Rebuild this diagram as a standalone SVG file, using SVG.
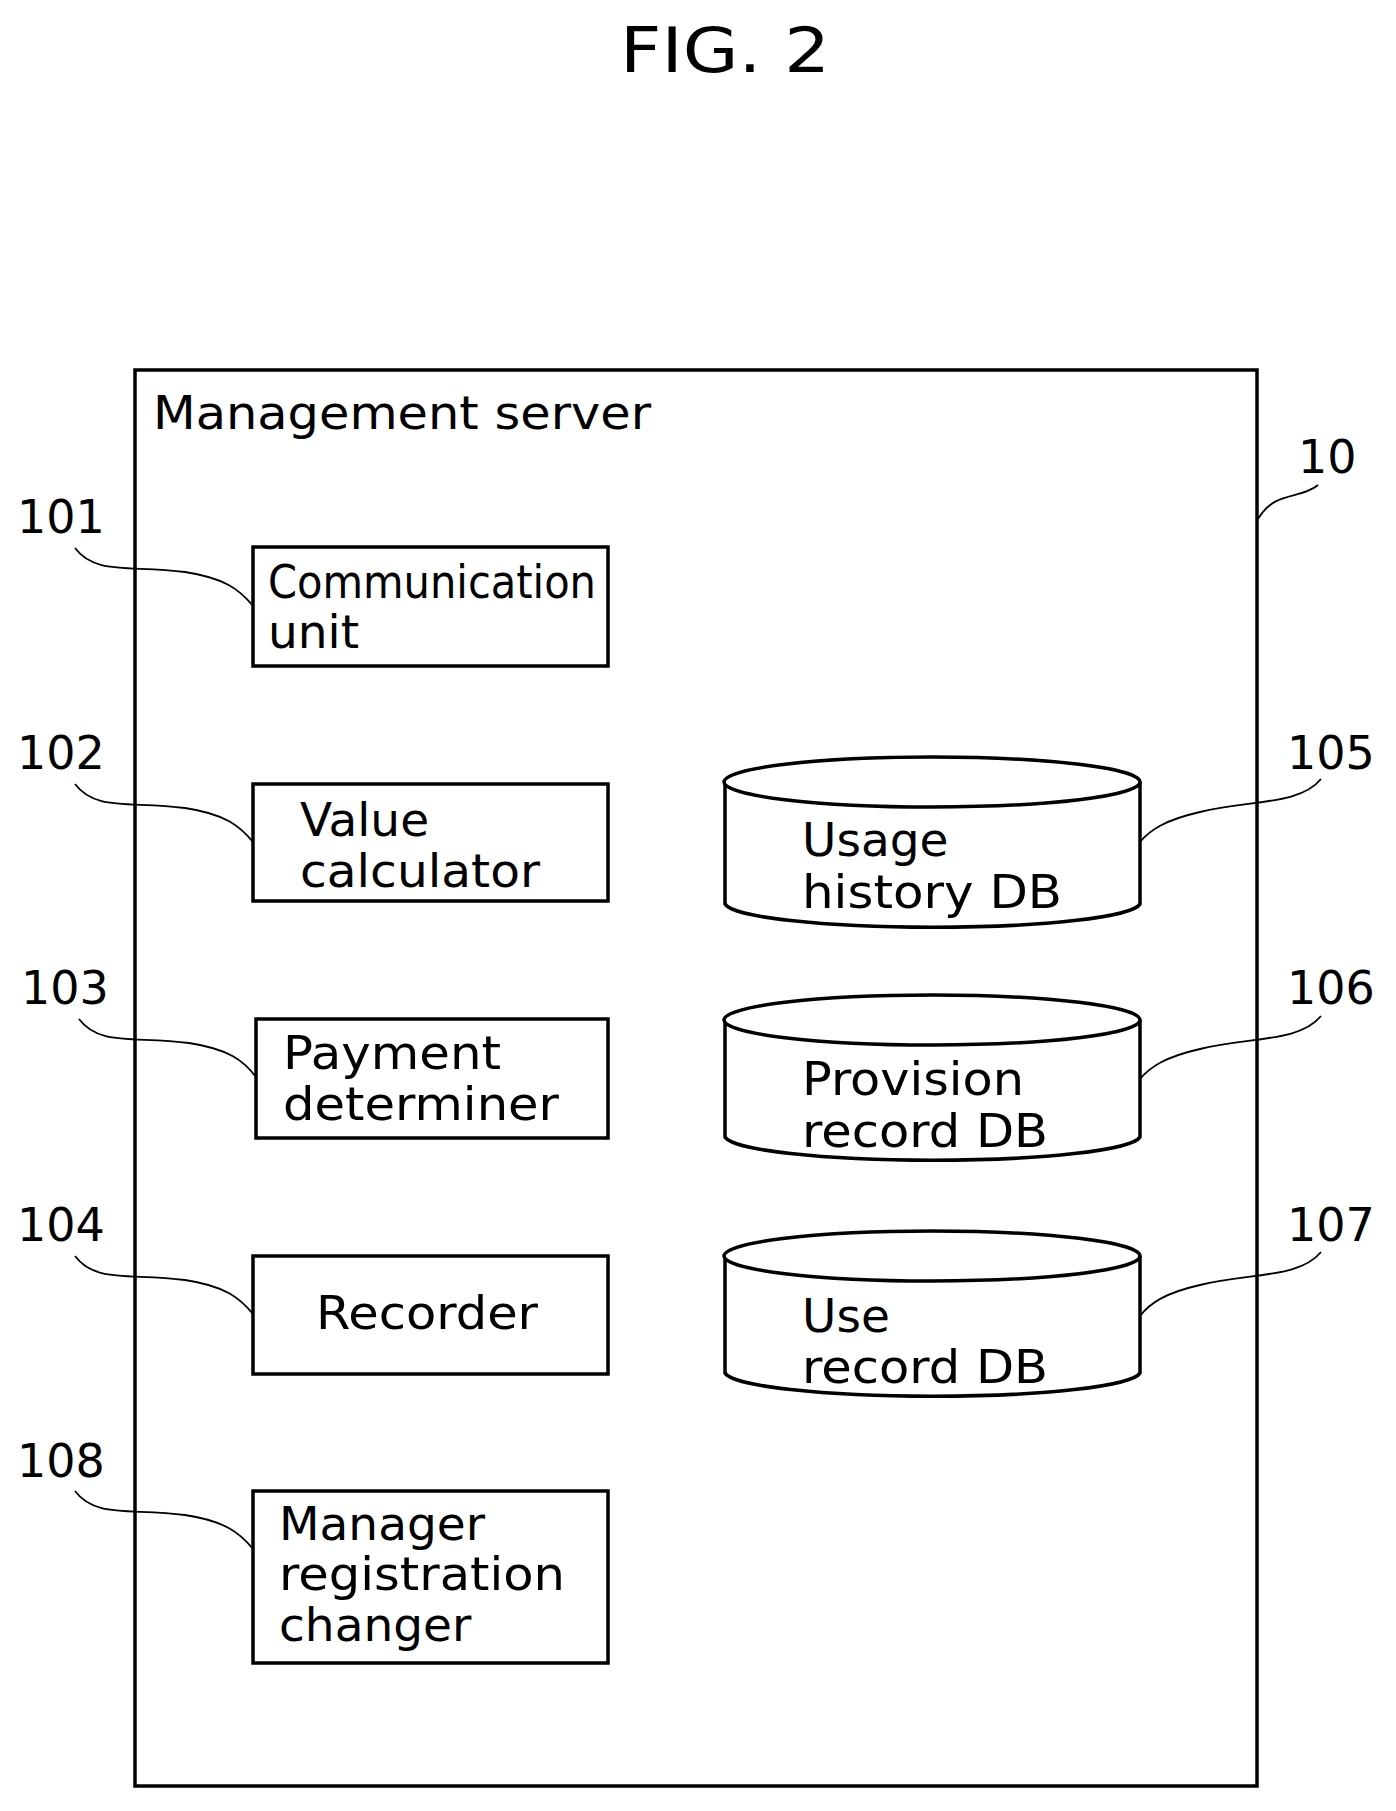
<svg xmlns="http://www.w3.org/2000/svg" width="1396" height="1811" viewBox="0 0 1396 1811">
<style>
text{font-family:"DejaVu Sans","Liberation Sans",sans-serif;fill:#000}
.t{font-size:47px}
.n{font-size:46px}
.b{fill:#fff;stroke:#000;stroke-width:3.5}
.l{fill:none;stroke:#000;stroke-width:1.8}
</style>
<rect width="1396" height="1811" fill="#fff"/>
<text x="725" y="72" font-size="63" text-anchor="middle" textLength="210" lengthAdjust="spacingAndGlyphs">FIG. 2</text>
<g id="server">
<rect class="b" x="135" y="370" width="1122" height="1416"/>
<text class="n" x="153" y="429" textLength="498" lengthAdjust="spacingAndGlyphs">Management server</text>
<text class="n" x="1298" y="473">10</text>
</g>
<g id="n101"><rect class="b" x="253" y="547" width="355" height="119"/><text class="t" x="268" y="598" textLength="328" lengthAdjust="spacingAndGlyphs">Communication</text><text class="t" x="268" y="648">unit</text><text class="n" x="17" y="533">101</text></g>
<g id="n102"><rect class="b" x="253" y="784" width="355" height="117"/><text class="t" x="300" y="836">Value</text><text class="t" x="300" y="887" textLength="240" lengthAdjust="spacingAndGlyphs">calculator</text><text class="n" x="17" y="769">102</text></g>
<g id="n103"><rect class="b" x="256" y="1019" width="352" height="119"/><text class="t" x="283" y="1069" textLength="218" lengthAdjust="spacingAndGlyphs">Payment</text><text class="t" x="283" y="1120" textLength="276" lengthAdjust="spacingAndGlyphs">determiner</text><text class="n" x="21" y="1004">103</text></g>
<g id="n104"><rect class="b" x="253" y="1256" width="355" height="118"/><text class="t" x="316" y="1329" textLength="222" lengthAdjust="spacingAndGlyphs">Recorder</text><text class="n" x="17" y="1241">104</text></g>
<g id="n108"><rect class="b" x="253" y="1491" width="355" height="172"/><text class="t" x="279" y="1540">Manager</text><text class="t" x="279" y="1590" textLength="286" lengthAdjust="spacingAndGlyphs">registration</text><text class="t" x="279" y="1641">changer</text><text class="n" x="17" y="1477">108</text></g>
<g id="n105"><path class="b" d="M725 782 V904 A208 25 0 0 0 1140 904 V782"/><ellipse class="b" cx="932" cy="782" rx="208" ry="25"/><text class="t" x="802" y="856">Usage</text><text class="t" x="802" y="908" textLength="260" lengthAdjust="spacingAndGlyphs">history DB</text><text class="n" x="1287" y="769">105</text></g>
<g id="n106"><path class="b" d="M725 1020 V1137 A208 25 0 0 0 1140 1137 V1020"/><ellipse class="b" cx="932" cy="1020" rx="208" ry="25"/><text class="t" x="802" y="1095" textLength="222" lengthAdjust="spacingAndGlyphs">Provision</text><text class="t" x="802" y="1147" textLength="246" lengthAdjust="spacingAndGlyphs">record DB</text><text class="n" x="1287" y="1004">106</text></g>
<g id="n107"><path class="b" d="M725 1256 V1373 A208 25 0 0 0 1140 1373 V1256"/><ellipse class="b" cx="932" cy="1256" rx="208" ry="25"/><text class="t" x="802" y="1332">Use</text><text class="t" x="802" y="1383" textLength="246" lengthAdjust="spacingAndGlyphs">record DB</text><text class="n" x="1287" y="1241">107</text></g>
<g id="connectors">
<path class="l" d="M1318 485 C1300 500 1275 490 1258 519"/>
<path class="l" d="M75 548 C95 575 130 565 185 572 C225 578 240 590 253 606"/>
<path class="l" d="M75 784 C95 811 130 801 185 808 C225 814 240 826 253 842"/>
<path class="l" d="M79 1019 C99 1046 134 1036 189 1043 C229 1049 244 1061 256 1077"/>
<path class="l" d="M75 1256 C95 1283 130 1273 185 1280 C225 1286 240 1298 253 1314"/>
<path class="l" d="M75 1491 C95 1518 130 1508 185 1515 C225 1521 240 1533 253 1549"/>
<path class="l" d="M1321 779 C1300 805 1250 800 1200 812 C1165 820 1150 830 1140 842"/>
<path class="l" d="M1321 1016 C1300 1042 1250 1037 1200 1049 C1165 1057 1150 1067 1140 1079"/>
<path class="l" d="M1321 1252 C1300 1278 1250 1273 1200 1285 C1165 1293 1150 1303 1140 1316"/>
</g>
</svg>
